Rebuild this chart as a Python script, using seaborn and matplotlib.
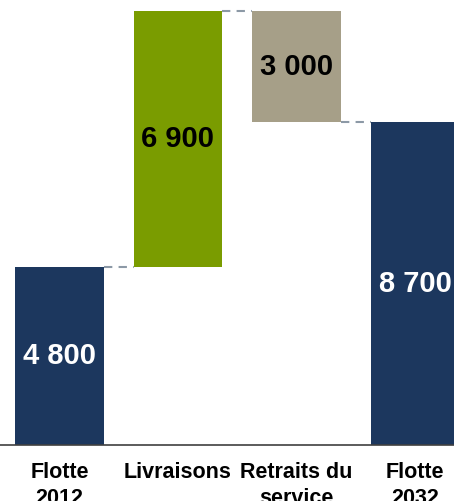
import matplotlib
matplotlib.use("Agg")
import matplotlib.pyplot as plt
import seaborn as sns

# waterfall data
categories = ["Flotte\n2012", "Livraisons", "Retraits du\nservice", "Flotte\n2032"]
changes = [4800, 6900, -3000, 8700]
is_total = [True, False, False, True]
bar_colors = ["#1c375e", "#7a9c00", "#a69f88", "#1c375e"]
label_colors = ["white", "black", "black", "white"]

# bottoms / heights for the floating bars
bottoms, heights, levels = [], [], []
running = 0
for v, tot in zip(changes, is_total):
    if tot:
        bottoms.append(0)
        heights.append(v)
        running = v
    else:
        new = running + v
        bottoms.append(min(running, new))
        heights.append(abs(v))
        running = new
    levels.append(running)

sns.set_style("white")
plt.rcParams["font.family"] = ["Liberation Sans", "DejaVu Sans"]

fig = plt.figure(figsize=(4.54, 5.01), dpi=100)
ax = fig.add_axes([0, 56 / 501, 1, 445 / 501])

sns.barplot(x=categories, y=heights, bottom=bottoms, width=0.75,
            color=bar_colors[0], saturation=1, linewidth=0, ax=ax)
for patch, c in zip(ax.patches, bar_colors):
    patch.set_facecolor(c)
    patch.set_edgecolor(c)

# value labels in the middle of each bar
for i, (b, h, v) in enumerate(zip(bottoms, heights, changes)):
    txt = f"{abs(v):,}".replace(",", " ")
    ax.text(i, b + h / 2, txt, ha="center", va="center",
            fontsize=21, fontweight="bold", color=label_colors[i])

# dashed connectors
for i in range(len(categories) - 1):
    ax.plot([i + 0.375, i + 1 - 0.375], [levels[i], levels[i]],
            color="#8c99a6", lw=1.5, ls=(0, (4, 3)))

ax.set_xlim(-0.502, 3.329)
ax.set_ylim(0, 12000)
ax.set_yticks([])
ax.set_xlabel("")
ax.set_ylabel("")
for s in ["left", "right", "top"]:
    ax.spines[s].set_visible(False)
ax.spines["bottom"].set_color("#404040")
ax.spines["bottom"].set_linewidth(1.2)
ax.tick_params(axis="x", length=0, pad=12)
for lbl in ax.get_xticklabels():
    lbl.set_fontsize(15.5)
    lbl.set_fontweight("bold")
    lbl.set_color("black")
    lbl.set_multialignment("center")
    lbl.set_linespacing(1.35)

fig.savefig("out.png", dpi=100)
